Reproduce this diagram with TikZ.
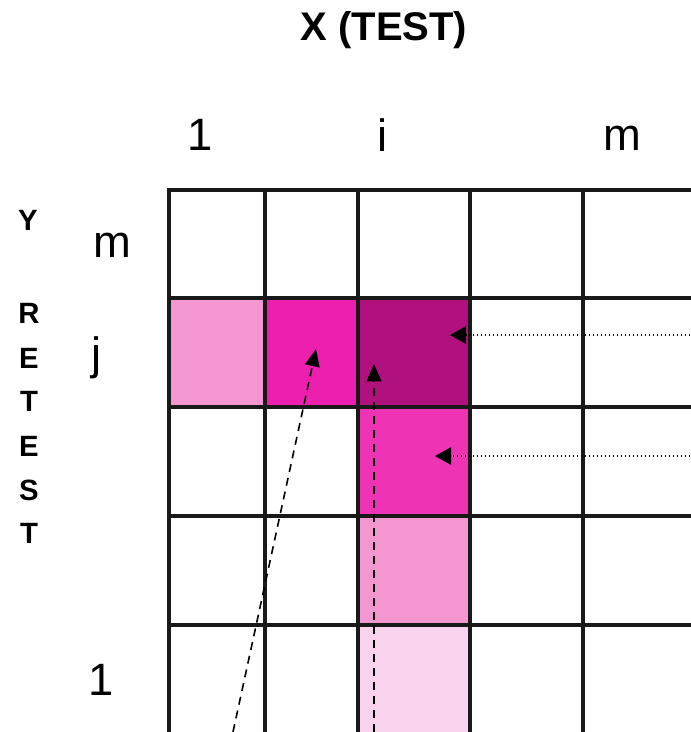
\documentclass[tikz,border=0pt]{standalone}
\usepackage{fontspec}
\setmainfont{Liberation Sans}
\usetikzlibrary{arrows.meta}
\definecolor{pinkA}{HTML}{F497D1}
\definecolor{pinkB}{HTML}{EC1FAE}
\definecolor{pinkC}{HTML}{B0117F}
\definecolor{pinkD}{HTML}{EE33B4}
\definecolor{pinkE}{HTML}{F9D3EE}
\tikzset{
  gridline/.style={line width=2.4pt, draw=black!90, line cap=rect},
  dashedarrow/.style={line width=1.2pt, dash pattern=on 6pt off 4.5pt, -{Triangle[length=13pt,width=11pt]}},
  dottedarrow/.style={line width=1.1pt, dash pattern=on 1.1pt off 1.9pt, -{Triangle[length=12pt,width=13pt]}},
  axislabel/.style={font=\fontsize{34}{36}\selectfont},
  titlelabel/.style={font=\bfseries\fontsize{30}{32}\selectfont},
  sidelabel/.style={font=\bfseries\fontsize{22}{23}\selectfont}
}
\begin{document}
\begin{tikzpicture}[x=0.75pt,y=-0.75pt]
\useasboundingbox (0,0) rectangle (690,732);
% coloured cells
\fill[pinkA] (169,298) rectangle (265,407);
\fill[pinkB] (265,298) rectangle (358,407);
\fill[pinkC] (358,298) rectangle (470,407);
\fill[pinkD] (358,407) rectangle (470,516);
\fill[pinkA] (358,516) rectangle (470,625);
\fill[pinkE] (358,625) rectangle (470,732);
% grid
\foreach \x in {169,265,358,470,583} \draw[gridline] (\x,190) -- (\x,740);
\foreach \y in {190,298,407,516,625} \draw[gridline] (169,\y) -- (700,\y);
% labels
\node[titlelabel] (title) at (384,30) {X (TEST)};
\node[axislabel] (c1) at (200,135) {1};
\node[axislabel] (ci) at (383,135) {i};
\node[axislabel] (cm) at (622,138) {m};
\node[axislabel] (rm) at (112,245) {m};
\node[axislabel] (rj) at (97,358) {j};
\node[axislabel] (r1) at (101,680) {1};
\node[sidelabel] (ly) at (28,220) {Y};
\foreach \l/\yy [count=\k] in {R/313,E/358,T/401,E/446,S/490,T/533}
  \node[sidelabel] (lr\k) at (29,\yy) {\l};
% arrows
\coordinate (d1s) at (233,732);
\coordinate (d1e) at (316,349);
\coordinate (d2s) at (374,732);
\coordinate (d2e) at (374,364);
\coordinate (p1s) at (690,335);
\coordinate (p1e) at (450,335);
\coordinate (p2s) at (690,456);
\coordinate (p2e) at (435,456);
\draw[dashedarrow] (d1s) -- (d1e);
\draw[dashedarrow] (d2s) -- (d2e);
\draw[dottedarrow] (p1s) -- (p1e);
\draw[dottedarrow] (p2s) -- (p2e);
\end{tikzpicture}
\end{document}
